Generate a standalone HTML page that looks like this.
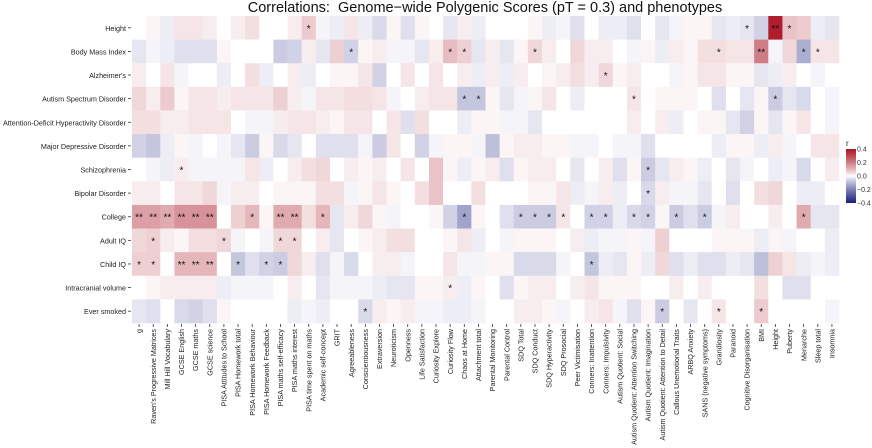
<!DOCTYPE html>
<html><head><meta charset="utf-8">
<style>
html,body{margin:0;padding:0;background:#fff;}
svg{display:block;font-family:"Liberation Sans",sans-serif;}
</style></head>
<body>
<svg id="chart" width="872" height="448" viewBox="0 0 872 448" xmlns="http://www.w3.org/2000/svg">
<text x="485" y="12" text-anchor="middle" font-size="14.5" fill="#111">Correlations:&#160; Genome−wide Polygenic Scores (pT = 0.3) and phenotypes</text>
<g id="cells"></g>
<g id="stars"></g>
<g id="ylabels"></g>
<g id="xlabels"></g>
<g id="legend"></g>
</svg>
<script>
const rows = ["Height","Body Mass Index","Alzheimer's","Autism Spectrum Disorder","Attention-Deficit Hyperactivity Disorder","Major Depressive Disorder","Schizophrenia","Bipolar Disorder","College","Adult IQ","Child IQ","Intracranial volume","Ever smoked"];
const cols = ["g","Raven's Progressive Matrices","Mill Hill Vocabulary","GCSE English","GCSE maths","GCSE science","PISA Attitudes to School","PISA Homework total","PISA Homework Behaviour","PISA Homework Feedback","PISA maths self-efficacy","PISA maths interest","PISA time spent on maths","Academic self-concept","GRIT","Agreeableness","Conscientiousness","Extraversion","Neuroticism","Openness","Life Satisfaction","Curiosity Explore","Curiosity Flow","Chaos at Home","Attachment total","Parental Monitoring","Parental Control","SDQ Total","SDQ Conduct","SDQ Hyperactivity","SDQ Prosocial","Peer Victimisation","Conners: Inattention","Conners: Impulsivity","Autism Quotient: Social","Autism Quotient: Attention Switching","Autism Quotient: Imagination","Autism Quotient: Attention to Detail","Callous Unemotional Traits","ARBQ Anxiety","SANS (negative symptoms)","Grandiosity","Paranoid","Cognitive Disorganisation","BMI","Height","Puberty","Menarche","Sleep total","Insomnia"];
const rHeight = [0,.01,-.02,.03,.03,.02,0,.02,.04,0,0,.02,.07,-.01,-.02,.03,-.02,-.05,.01,-.04,.01,0,-.03,.02,-.02,0,0,0,.01,-.02,-.01,-.04,0,-.02,-.02,-.04,0,-.03,-.01,.01,.01,-.03,-.02,-.03,-.06,.38,.08,.07,-.02,-.03];
const rBMI = [-.03,-.01,-.02,-.04,-.04,-.04,.01,0,0,0,-.07,-.06,.02,-.03,.06,-.06,.01,.02,-.01,-.01,-.03,.02,.09,.06,-.03,.02,-.03,.01,.05,.02,0,.05,.02,.02,0,-.01,.01,-.02,.02,.01,.04,.04,.03,.03,.2,-.01,.05,-.12,.03,.03];
const rAlz = [.02,0,.03,-.01,0,0,-.02,0,.04,-.02,0,.02,-.02,0,.01,.01,.03,-.06,0,.03,0,.03,0,.02,-.02,.02,-.02,.02,0,.01,.02,.04,.02,.05,.01,.02,0,0,-.01,.01,.03,.03,.01,.01,-.03,-.02,.02,0,-.01,0];
const rASD = [.05,.02,.07,.01,.03,.03,.02,.03,.03,.03,.06,.02,-.01,.03,.03,.04,.04,.03,-.01,0,.02,.03,.03,-.08,-.08,.01,-.03,-.01,.01,.03,0,-.02,0,0,0,.03,0,.01,.01,.01,0,-.04,0,-.03,.01,-.07,-.03,-.05,0,-.01];
const rADHD = [.04,.04,.02,.02,.03,.03,.03,0,-.01,-.01,.02,.03,.03,.02,.01,.03,.03,0,.03,-.04,.04,0,0,-.02,.01,.01,-.01,-.01,-.03,0,0,0,0,0,0,.02,0,.02,-.02,0,.01,.01,-.03,-.06,.01,-.03,.01,.03,0,-.01];
const rMDD = [-.06,-.08,-.02,.01,-.01,0,-.01,-.03,-.07,.01,-.05,-.03,0,-.04,-.04,-.04,-.01,-.07,.03,0,-.06,-.01,.01,.01,-.01,-.09,.01,.02,.02,.01,.01,-.01,-.01,0,-.01,-.01,-.04,0,0,0,0,-.02,.01,.01,-.02,.02,-.01,0,.03,.03];
const rSCZ = [0,-.01,-.02,.02,-.01,-.01,-.01,-.01,.03,-.02,0,.02,.04,.05,0,.02,.01,.02,0,.03,0,.08,.01,-.02,.01,.02,-.04,.01,.02,.02,0,-.03,0,.02,-.04,.01,-.07,-.03,.02,.01,-.02,0,-.03,-.01,0,-.02,-.01,-.05,0,.02];
const rBIP = [.02,.02,0,.03,.03,.05,-.01,.02,.02,0,.01,.01,.01,.04,.04,-.01,.01,.03,.01,0,.04,.08,0,0,.04,0,0,0,.01,.01,.03,-.02,-.01,.02,-.02,0,-.05,.02,-.01,-.01,-.03,0,-.04,0,.04,.05,0,-.02,-.02,0];
const rCollege = [.14,.14,.12,.16,.16,.16,0,.06,.1,.01,.12,.12,.04,.1,-.03,.02,.05,.01,-.01,0,0,.01,-.06,-.14,.01,0,-.04,-.07,-.07,-.07,.03,0,-.06,-.06,-.02,-.05,-.06,.01,-.07,-.04,-.07,-.01,.02,0,0,.02,0,.12,-.03,-.03];
const rAdultIQ = [.05,.06,.02,.01,.04,.04,.05,-.01,0,-.01,.05,.05,0,.02,-.03,0,.01,.02,.04,.04,0,0,.01,.03,-.02,0,-.01,.01,.01,.01,0,.02,-.02,-.01,-.01,.01,-.01,.06,0,0,0,.01,.01,.01,-.02,.01,-.01,0,0,-.02];
const rChildIQ = [.06,.06,0,.1,.1,.1,0,-.08,-.04,-.06,-.07,.05,.02,-.04,-.01,-.05,0,.02,.02,-.01,0,0,.03,-.01,-.01,.01,.01,-.05,-.05,-.05,-.01,0,-.08,-.02,-.03,.01,-.02,.05,-.04,-.02,-.04,-.04,-.02,-.03,-.09,.06,.03,-.02,-.01,-.02];
const rICV = [0,.01,.02,.02,.02,.02,-.02,-.01,-.01,-.01,0,.02,0,-.03,-.01,-.01,-.01,-.02,-.03,-.03,.01,.01,.02,-.02,.01,0,-.04,.01,.02,.02,0,.02,.03,.01,.01,.01,0,0,.02,0,.02,0,0,0,.04,0,-.04,-.04,0,0];
const rSmoke = [-.03,-.04,0,-.05,-.06,-.04,.01,0,0,0,0,-.02,-.01,-.02,0,0,-.05,.02,.01,.02,-.01,-.01,-.02,-.02,-.01,0,0,.02,.02,.01,-.01,0,.02,.03,-.01,-.04,.01,-.07,0,-.03,0,.03,0,0,.07,0,0,0,0,-.01];
const values = [rHeight,rBMI,rAlz,rASD,rADHD,rMDD,rSCZ,rBIP,rCollege,rAdultIQ,rChildIQ,rICV,rSmoke];
const oneStar = [
 [12,43,46],
 [15,22,23,28,41,47,48],
 [33],
 [23,24,35,45],
 [],
 [],
 [3,36],
 [36],
 [8,13,23,27,28,29,30,32,33,35,36,38,40,47],
 [1,6,10,11],
 [0,1,7,9,10,32],
 [22],
 [16,37,41,44]
];
const twoStar = [
 [45],
 [44],
 [],[],[],[],[],[],
 [0,1,2,3,4,5,10,11],
 [],
 [3,4,5],
 [],
 []
];
const legendTicks = [0.4,0.2,0.0,-0.2,-0.4];
const legendLabels = ["0.4","0.2","0.0","−0.2","−0.4"];

const NS="http://www.w3.org/2000/svg";
const X0=132, X1=839, Y0=16, Y1=323;
const cw=(X1-X0)/cols.length, rh=(Y1-Y0)/rows.length;
const xScale=i=>X0+i*cw, yScale=j=>Y0+j*rh;
function color(v){
  const t=Math.min(1,Math.abs(v)/0.4);
  const e=Math.pow(t,0.85);
  const c=v>=0?[170,20,35]:[25,30,125];
  const r=Math.round(255+(c[0]-255)*e),g=Math.round(255+(c[1]-255)*e),b=Math.round(255+(c[2]-255)*e);
  return `rgb(${r},${g},${b})`;
}
function mk(tag,attrs,parent){const el=document.createElementNS(NS,tag);for(const k in attrs)el.setAttribute(k,attrs[k]);parent.appendChild(el);return el;}
const gC=document.getElementById('cells'),gS=document.getElementById('stars'),gY=document.getElementById('ylabels'),gX=document.getElementById('xlabels'),gL=document.getElementById('legend');
values.forEach((row,j)=>{
  row.forEach((v,i)=>{
    const r=mk('rect',{x:xScale(i).toFixed(2),y:yScale(j).toFixed(2),width:(cw+0.3).toFixed(2),height:(rh+0.3).toFixed(2),fill:color(v)},gC);
    
    
    const s=twoStar[j].includes(i)?2:(oneStar[j].includes(i)?1:0);
    if(s>0){
      const t=mk('text',{x:(xScale(i)+cw/2).toFixed(2),y:(yScale(j)+rh/2+4).toFixed(2),'text-anchor':'middle','font-size':'10',fill:'#111'},gS);
      t.textContent=s===2?'**':'*';
      
      
    }
  });
});
rows.forEach((name,j)=>{
  const t=mk('text',{x:126,y:(yScale(j)+rh/2+3).toFixed(2),'text-anchor':'end','font-size':'7.2',fill:'#222'},gY);
  t.textContent=name;
  
  
  const l=mk('line',{x1:128,x2:131,y1:(yScale(j)+rh/2).toFixed(2),y2:(yScale(j)+rh/2).toFixed(2),stroke:'#333','stroke-width':0.8},gY);
  
  
});
cols.forEach((name,i)=>{
  const cx=xScale(i)+cw/2;
  const l=mk('line',{x1:cx.toFixed(2),x2:cx.toFixed(2),y1:Y1+1,y2:Y1+4,stroke:'#333','stroke-width':0.8},gX);
  
  
  const t=mk('text',{x:0,y:0,'text-anchor':'end','font-size':'7.2',fill:'#222',transform:`translate(${(cx+2.6).toFixed(2)},${Y1+6}) rotate(-90)`},gX);
  t.textContent=name;
  
  
});
const LX=846,LW=10,LT=149,LB=203;
const defs=mk('defs',{},gL);
const grad=mk('linearGradient',{id:'lg',x1:0,y1:0,x2:0,y2:1},defs);
for(let k=0;k<=20;k++){const v=0.4-0.8*k/20;mk('stop',{offset:(k/20).toFixed(3),'stop-color':color(v)},grad);}
const bar=mk('rect',{x:LX,y:LT,width:LW,height:LB-LT,fill:'url(#lg)'},gL);


const rt=mk('text',{x:LX,y:LT-3,'font-size':'8',fill:'#222'},gL);
rt.textContent='r';


legendTicks.forEach((v,k)=>{
  const y=LT+(0.4-v)/0.8*(LB-LT);
  const t=mk('text',{x:LX+LW+1,y:(y+2.5).toFixed(2),'font-size':'7','fill':'#333'},gL);
  t.textContent=legendLabels[k];
  
  
});
</script>
</body></html>
